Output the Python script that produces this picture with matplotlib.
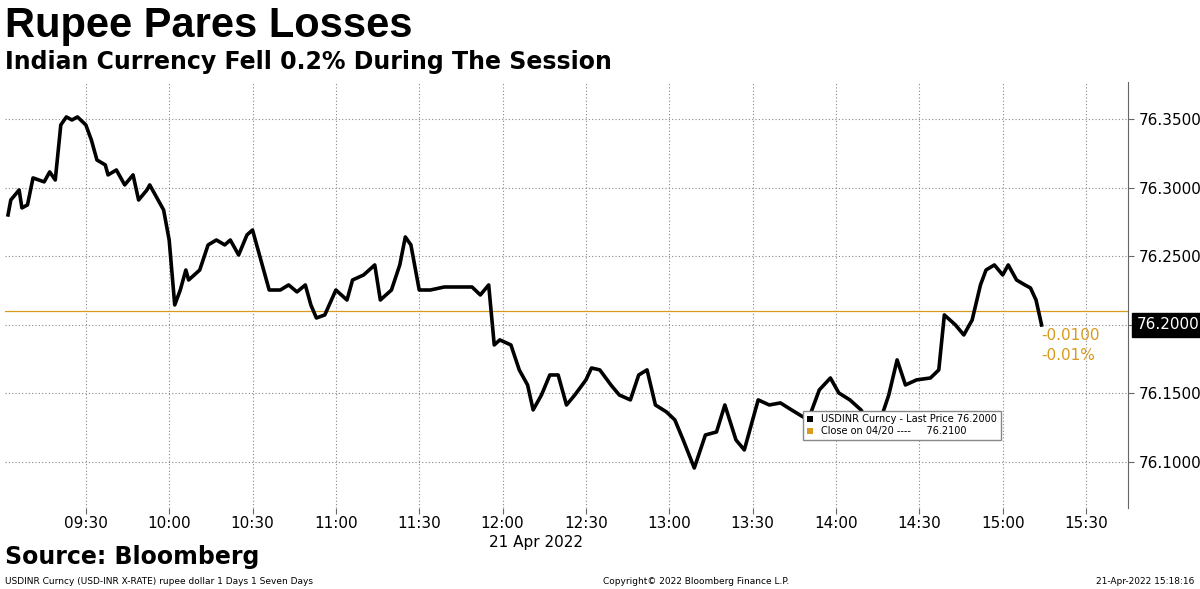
"""Rupee Pares Losses - USDINR intraday, Bloomberg style."""

import matplotlib

matplotlib.use("Agg")
import matplotlib.pyplot as plt
import matplotlib.ticker as mticker

# minutes after 09:00 on 21 Apr 2022
MINUTES = [
    2, 3, 6, 7, 9, 11, 15, 17, 19, 21, 23, 25, 27, 30, 32, 34, 37, 38, 41, 44,
    47, 49, 52, 53, 56, 58, 60, 62, 64, 66, 67, 71, 74, 77, 80, 82, 85, 88, 90, 92,
    94, 96, 100, 103, 106, 109, 111, 113, 116, 120, 124, 126, 130, 134, 136, 140, 143, 145, 147, 150,
    154, 159, 165, 169, 172, 175, 177, 179, 183, 186, 189, 191, 194, 197, 200, 203, 206, 210, 212, 215,
    219, 222, 226, 229, 232, 235, 239, 242, 245, 249, 253, 257, 260, 264, 267, 270, 272, 276, 280, 284,
    287, 290, 294, 298, 301, 305, 309, 313, 316, 319, 322, 325, 329, 334, 337, 339, 343, 346, 349, 352,
    354, 357, 360, 362, 365, 368, 370, 372, 374,
]
PRICES = [
    76.2803, 76.2912, 76.2985, 76.2854, 76.2876, 76.3073, 76.3044, 76.3117, 76.3058, 76.3460,
    76.3518, 76.3496, 76.3518, 76.3460, 76.3350, 76.3204, 76.3168, 76.3095, 76.3131, 76.3022,
    76.3095, 76.2912, 76.2985, 76.3022, 76.2912, 76.2839, 76.2620, 76.2146, 76.2255, 76.2401,
    76.2328, 76.2401, 76.2584, 76.2620, 76.2584, 76.2620, 76.2511, 76.2657, 76.2693, 76.2547,
    76.2401, 76.2255, 76.2255, 76.2292, 76.2241, 76.2292, 76.2146, 76.2051, 76.2073, 76.2255,
    76.2182, 76.2328, 76.2365, 76.2438, 76.2182, 76.2255, 76.2438, 76.2642, 76.2584, 76.2255,
    76.2255, 76.2277, 76.2277, 76.2277, 76.2219, 76.2292, 76.1854, 76.1891, 76.1854, 76.1672,
    76.1562, 76.1380, 76.1489, 76.1635, 76.1635, 76.1416, 76.1489, 76.1599, 76.1686, 76.1672,
    76.1562, 76.1489, 76.1453, 76.1635, 76.1672, 76.1416, 76.1365, 76.1307, 76.1161, 76.0956,
    76.1197, 76.1219, 76.1416, 76.1161, 76.1088, 76.1307, 76.1453, 76.1416, 76.1431, 76.1380,
    76.1343, 76.1307, 76.1526, 76.1613, 76.1504, 76.1453, 76.1380, 76.1248, 76.1307, 76.1489,
    76.1745, 76.1562, 76.1599, 76.1613, 76.1672, 76.2073, 76.2000, 76.1927, 76.2036, 76.2292,
    76.2401, 76.2438, 76.2365, 76.2438, 76.2328, 76.2292, 76.2270, 76.2182, 76.2000,
]
PREV_CLOSE = 76.21
LAST = 76.20
X_TICKS = [30, 60, 90, 120, 150, 180, 210, 240, 270, 300, 330, 360, 390]
X_LABELS = ["09:30", "10:00", "10:30", "11:00", "11:30", "12:00", "12:30",
            "13:00", "13:30", "14:00", "14:30", "15:00", "15:30"]
Y_TICKS = [76.10, 76.15, 76.20, 76.25, 76.30, 76.35]

assert len(MINUTES) == len(PRICES)

ORANGE = "#d99a1e"

fig = plt.figure(figsize=(12, 5.89), dpi=100)
ax = fig.add_axes((0.004, 0.1375, 0.936, 0.7235))
ax.plot(MINUTES, PRICES, color="black", lw=2.6, zorder=3)
ax.axhline(PREV_CLOSE, color=ORANGE, lw=0.9, zorder=2)

ax.set_xlim(0.84, 405.1)
ax.set_ylim(76.0664, 76.3774)
ax.set_xticks(X_TICKS)
ax.set_xticklabels(X_LABELS)
ax.set_yticks(Y_TICKS)
ax.yaxis.set_major_formatter(mticker.FuncFormatter(lambda v, _: f"{v:.4f}"))
ax.yaxis.tick_right()
ax.tick_params(labelsize=11, length=4, color="#666666")
ax.tick_params(axis="x", pad=2)
ax.grid(True, color="#888888", ls=(0, (1, 2)), lw=0.8)
for side in ("top", "left", "bottom"):
    ax.spines[side].set_visible(False)
ax.spines["right"].set_color("#666666")
ax.text(192, 76.0664 - 0.0195, "21 Apr 2022", ha="center", va="top", fontsize=11)

# last price tag
ax.annotate(f"{LAST:.4f}", xy=(1.0, LAST), xycoords=("axes fraction", "data"),
            xytext=(6, 0), textcoords="offset points", va="center", ha="left",
            fontsize=11, color="white",
            bbox=dict(boxstyle="square,pad=0.3", fc="black", ec="black"),
            annotation_clip=False)
ax.text(374, 76.1920, f"{LAST - PREV_CLOSE:.4f}", color=ORANGE, fontsize=11, va="center")
ax.text(374, 76.1780, f"{(LAST - PREV_CLOSE) / PREV_CLOSE * 100:.2f}%", color=ORANGE,
        fontsize=11, va="center")

# legend box
leg = ax.legend(
    handles=[
        plt.Rectangle((0, 0), 1, 1, fc="black"),
        plt.Rectangle((0, 0), 1, 1, fc=ORANGE),
    ],
    labels=[f"USDINR Curncy - Last Price {LAST:.4f}", f"Close on 04/20 ----     {PREV_CLOSE:.4f}"],
    loc="upper left", bbox_to_anchor=(0.706, 0.24), fontsize=7,
    handlelength=0.7, handleheight=0.7, borderpad=0.4, labelspacing=0.2,
    fancybox=False, edgecolor="#888888", framealpha=1,
)
leg.set_zorder(5)

fig.text(0.004, 0.99, "Rupee Pares Losses", fontsize=30, fontweight="bold", va="top",
         family="Liberation Sans")
fig.text(0.004, 0.915, "Indian Currency Fell 0.2% During The Session", fontsize=17,
         fontweight="bold", va="top")
fig.text(0.004, 0.054, "Source: Bloomberg", fontsize=17, fontweight="bold", va="center")
fig.text(0.004, 0.005, "USDINR Curncy (USD-INR X-RATE) rupee dollar 1 Days 1 Seven Days",
         fontsize=6.5, va="bottom")
fig.text(0.58, 0.005, "Copyright\u00a9 2022 Bloomberg Finance L.P.", fontsize=6.5,
         va="bottom", ha="center")
fig.text(0.995, 0.005, "21-Apr-2022 15:18:16", fontsize=6.5, va="bottom", ha="right")

fig.savefig("out.png", dpi=100)
